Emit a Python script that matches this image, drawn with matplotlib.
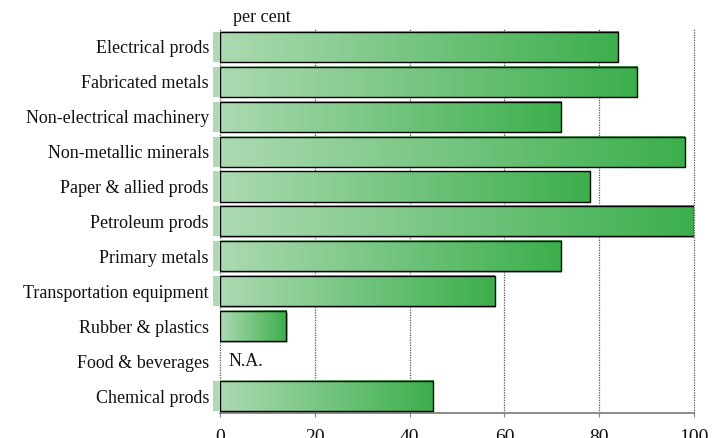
import matplotlib
matplotlib.use('Agg')
import matplotlib.pyplot as plt
import numpy as np
from matplotlib.patches import Rectangle

plt.rcParams['font.family'] = ['Liberation Serif', 'DejaVu Serif']

# Data (top to bottom)
categories = [
    'Electrical prods', 'Fabricated metals', 'Non-electrical machinery',
    'Non-metallic minerals', 'Paper & allied prods', 'Petroleum prods',
    'Primary metals', 'Transportation equipment', 'Rubber & plastics',
    'Food & beverages', 'Chemical prods',
]
values = [84, 88, 72, 98, 78, 100, 72, 58, 14, None, 45]
has_edge_strip = [True, True, True, True, True, True, True, True, False, False, True]
x_ticks = [0, 20, 40, 60, 80, 100]

LIGHT = np.array([172, 218, 178]) / 255
DARK = np.array([60, 175, 76]) / 255
TEXT = '#111111'

fig = plt.figure(figsize=(7.22, 4.38), dpi=100)
ax = fig.add_axes([0.3047, 0.056, 0.6565, 0.877])

bar_h = 0.86
grad = np.linspace(0, 1, 256)
grad_img = (LIGHT[None, :] * (1 - grad[:, None]) + DARK[None, :] * grad[:, None])[None, :, :]

for i, (cat, v) in enumerate(zip(categories, values)):
    if v is None:
        ax.text(1.8, i, 'N.A.', va='center', ha='left', fontsize=13, color=TEXT)
        continue
    y0, y1 = i - bar_h / 2, i + bar_h / 2
    # soft grey shadow
    ax.add_patch(Rectangle((0.25, y0 + 0.04), v, bar_h, facecolor='#9a9a9a',
                           edgecolor='none', alpha=0.6, zorder=2))
    ax.imshow(grad_img, extent=[0, v, y1, y0], aspect='auto',
              interpolation='bilinear', zorder=3)
    ax.add_patch(Rectangle((0, y0), v, bar_h, facecolor='none',
                           edgecolor='black', linewidth=1.0, zorder=4))
    if has_edge_strip[i]:
        ax.add_patch(Rectangle((-1.5, y0), 1.5, bar_h, facecolor=LIGHT,
                               edgecolor='none', clip_on=False, zorder=3))

ax.set_xlim(0, 100)
ax.set_ylim(len(categories) - 0.5, -0.5)

ax.set_yticks(range(len(categories)))
ax.set_yticklabels(categories, fontsize=13, color=TEXT)
ax.tick_params(axis='y', length=0, pad=8)
ax.set_xticks(x_ticks)
ax.set_xticklabels([str(t) for t in x_ticks], fontsize=14, color=TEXT)
ax.tick_params(axis='x', length=3, color='#888888', pad=8)

for t in x_ticks:
    ax.axvline(t, color='#555555', linestyle=(0, (1, 1)), linewidth=0.9,
               zorder=1, clip_on=False)

for s in ['top', 'right', 'left']:
    ax.spines[s].set_visible(False)
ax.spines['bottom'].set_color('#777777')
ax.spines['bottom'].set_linewidth(1.2)

fig.text(233 / 722, 1 - 18 / 438, 'per cent', fontsize=13, color=TEXT,
         ha='left', va='center')

fig.savefig('out.png', dpi=100)
